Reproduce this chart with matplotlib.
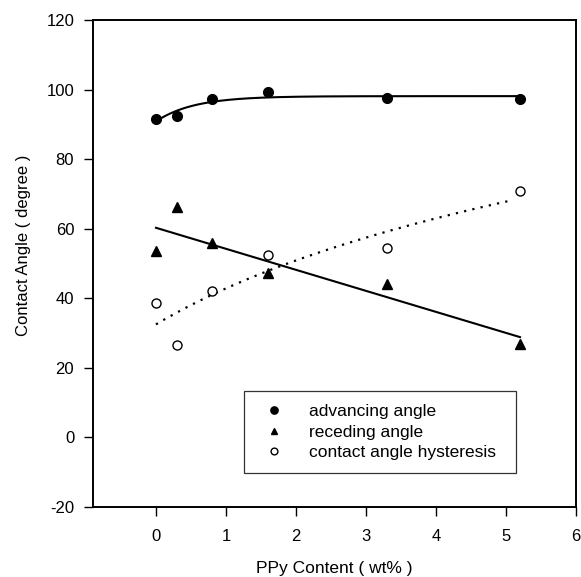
import numpy as np
import matplotlib
matplotlib.use("Agg")
import matplotlib.pyplot as plt

plt.rcParams["font.family"] = ["Liberation Sans", "DejaVu Sans"]
plt.rcParams["axes.unicode_minus"] = False

# PPy content (wt%) and measured angles (degree)
ppy = [0.0, 0.3, 0.8, 1.6, 3.3, 5.2]
advancing = [91.5, 92.3, 97.4, 99.2, 97.6, 97.2]
receding = [53.5, 66.2, 55.9, 47.2, 44.2, 26.9]
hysteresis = [38.7, 26.7, 42.0, 52.5, 54.4, 70.9]

x = np.array(ppy)
xs = np.linspace(0, 5.2, 200)


def fit_saturating(x, y):
    # y = a + b*exp(-x/tau), tau by grid search
    best = None
    for tau in np.linspace(0.1, 2.0, 191):
        A = np.column_stack([np.ones_like(x), np.exp(-x / tau)])
        coef, *_ = np.linalg.lstsq(A, y, rcond=None)
        err = np.sum((A @ coef - y) ** 2)
        if best is None or err < best[0]:
            best = (err, tau, coef)
    _, tau, (a, b) = best
    return lambda t: a + b * np.exp(-t / tau)


def fit_log(x, y):
    # y = a + b*ln(x + c), c by grid search
    best = None
    for c in np.linspace(0.2, 3.0, 281):
        A = np.column_stack([np.ones_like(x), np.log(x + c)])
        coef, *_ = np.linalg.lstsq(A, y, rcond=None)
        err = np.sum((A @ coef - y) ** 2)
        if best is None or err < best[0]:
            best = (err, c, coef)
    _, c, (a, b) = best
    return lambda t: a + b * np.log(t + c)


adv_fit = fit_saturating(x, np.array(advancing))
rec_fit = np.poly1d(np.polyfit(x, receding, 1))
hys_fit = fit_log(x, np.array(hysteresis))

fig = plt.figure(figsize=(5.81, 5.77), dpi=100)
ax = fig.add_axes([93 / 581, 70 / 577, 483 / 581, 487 / 577])

ax.plot(xs, adv_fit(xs), color="black", lw=1.5)
ax.plot(xs, rec_fit(xs), color="black", lw=1.5)
xh = xs[xs <= 5.1]
ax.plot(xh, hys_fit(xh), color="black", lw=1.6, ls=(0, (1, 2.8)))

ax.plot(ppy, advancing, "o", color="black", ms=7, label="advancing angle")
ax.plot(ppy, receding, "^", color="black", ms=6.5, label="receding angle")
ax.plot(ppy, hysteresis, "o", mfc="white", mec="black", mew=1.0, ms=6.5,
        label="contact angle hysteresis")

ax.set_xlim(-0.9, 6.0)
ax.set_ylim(-20, 120)
ax.set_xticks(range(0, 7))
ax.set_yticks(range(-20, 121, 20))
ax.tick_params(axis="both", direction="out", length=6.5, width=1.0,
               labelsize=12, colors="black")
ax.tick_params(axis="x", pad=9)
ax.tick_params(axis="y", pad=7)
for s in ax.spines.values():
    s.set_linewidth(1.4)

ax.set_xlabel("PPy Content ( wt% )", fontsize=12.5)
ax.xaxis.set_label_coords(0.5, -0.11)
ax.set_ylabel("Contact Angle ( degree )", fontsize=12)
ax.yaxis.set_label_coords(-0.128, 0.537)

leg = ax.legend(loc="upper left", bbox_to_anchor=(0.3126, 0.0595, 0.876 - 0.3126, 0.1785),
                mode="expand", borderaxespad=0, fontsize=12.5, frameon=True,
                fancybox=False, edgecolor="black", borderpad=0.75,
                handlelength=2.0, handletextpad=1.0, labelspacing=0.3,
                markerscale=0.75)
leg.get_frame().set_linewidth(0.9)

fig.savefig("out.png", facecolor="white")
